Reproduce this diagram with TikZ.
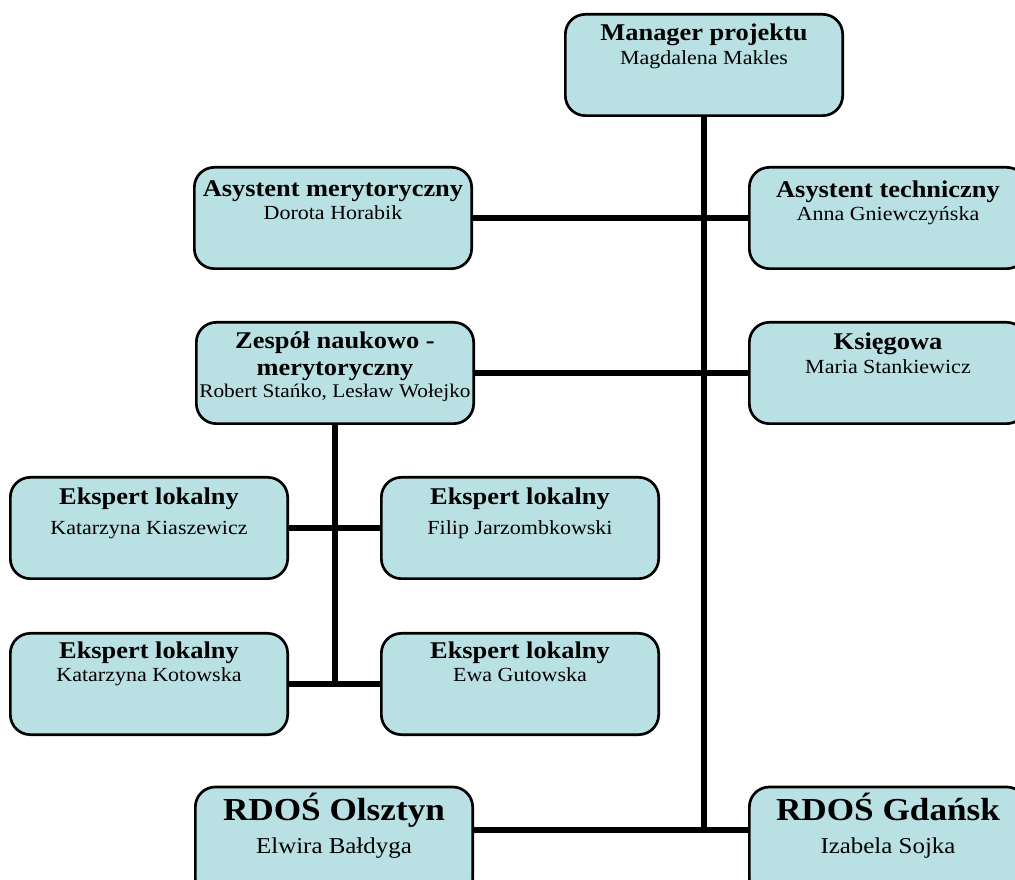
\documentclass[tikz,border=0pt]{standalone}
\usepackage[dvipsnames]{xcolor}
\usepackage{fontspec}
\setmainfont{Liberation Serif}[FakeStretch=1.1]
\usepackage{tikz}

\definecolor{boxfill}{RGB}{185,224,227}

\newcommand{\ttl}[1]{{\fontsize{18}{22}\selectfont\bfseries #1}}
\newcommand{\bigttl}[1]{{\fontsize{24}{28}\selectfont\bfseries #1}}

\begin{document}
\begin{tikzpicture}[x=0.75pt, y=-0.75pt,
  box/.style={draw, line width=2pt, fill=boxfill, rounded corners=15pt,
    minimum width=208pt, minimum height=76pt, inner sep=0pt},
  txt/.style={anchor=north, align=center, inner sep=0pt,
    font=\fontsize{15}{18}\selectfont},
  bigtxt/.style={txt, font=\fontsize{17}{20}\selectfont},
  link/.style={line width=4.5pt}]
\useasboundingbox (0,0) rectangle (1015,880);
\clip (0,0) rectangle (1015,880);

\node[box] (mgr)    at (704,65)  {};
\node[box] (asmer)  at (333,218) {};
\node[box] (astech) at (888,218) {};
\node[box] (zesp)   at (335,373) {};
\node[box] (ksieg)  at (888,373) {};
\node[box] (eks1)   at (149,528) {};
\node[box] (eks2)   at (520,528) {};
\node[box] (eks3)   at (149,684) {};
\node[box] (eks4)   at (520,684) {};
\node[box, minimum height=84pt] (olsz) at (334,843) {};
\node[box, minimum height=84pt] (gdan) at (888,843) {};

\node[txt] (mgr-t)    at ([yshift=-8pt]mgr.north)    {\ttl{Manager projektu}\\Magdalena Makles};
\node[txt] (asmer-t)  at ([yshift=-11pt]asmer.north) {\ttl{Asystent merytoryczny}\\[-1pt]Dorota Horabik};
\node[txt] (astech-t) at ([yshift=-11pt]astech.north) {\ttl{Asystent techniczny}\\[-1pt]Anna Gniewczyńska};
\node[txt] (zesp-t)   at ([yshift=-8pt]zesp.north)
  {\ttl{Zespół naukowo -}\\[2pt]\ttl{merytoryczny}\\[-1pt]{\fontsize{14.5}{17}\selectfont Robert Stańko, Lesław Wołejko}};
\node[txt] (ksieg-t)  at ([yshift=-9pt]ksieg.north)  {\ttl{Księgowa}\\Maria Stankiewicz};
\node[txt] (eks1-t)   at ([yshift=-9pt]eks1.north)   {\ttl{Ekspert lokalny}\\[4pt]Katarzyna Kiaszewicz};
\node[txt] (eks2-t)   at ([yshift=-9pt]eks2.north)   {\ttl{Ekspert lokalny}\\[4pt]Filip Jarzombkowski};
\node[txt] (eks3-t)   at ([yshift=-7.5pt]eks3.north) {\ttl{Ekspert lokalny}\\[-1pt]Katarzyna Kotowska};
\node[txt] (eks4-t)   at ([yshift=-7.5pt]eks4.north) {\ttl{Ekspert lokalny}\\[-1pt]Ewa Gutowska};
\node[bigtxt] (olsz-t) at ([yshift=-5pt]olsz.north)  {\bigttl{RDOŚ Olsztyn}\\[5pt]Elwira Bałdyga};
\node[bigtxt] (gdan-t) at ([yshift=-5pt]gdan.north)  {\bigttl{RDOŚ Gdańsk}\\[5pt]Izabela Sojka};

\coordinate (bot) at ([yshift=10pt]gdan.west);
\draw[link] (mgr.south) -- (mgr.south |- bot);
\draw[link] (asmer.east) -- (astech.west);
\draw[link] (zesp.east) -- (ksieg.west);
\draw[link] ([yshift=10pt]olsz.east) -- (bot);
\draw[link] (zesp.south) -- (zesp.south |- eks3.east);
\draw[link] (eks1.east) -- (eks2.west);
\draw[link] (eks3.east) -- (eks4.west);

\end{tikzpicture}
\end{document}
